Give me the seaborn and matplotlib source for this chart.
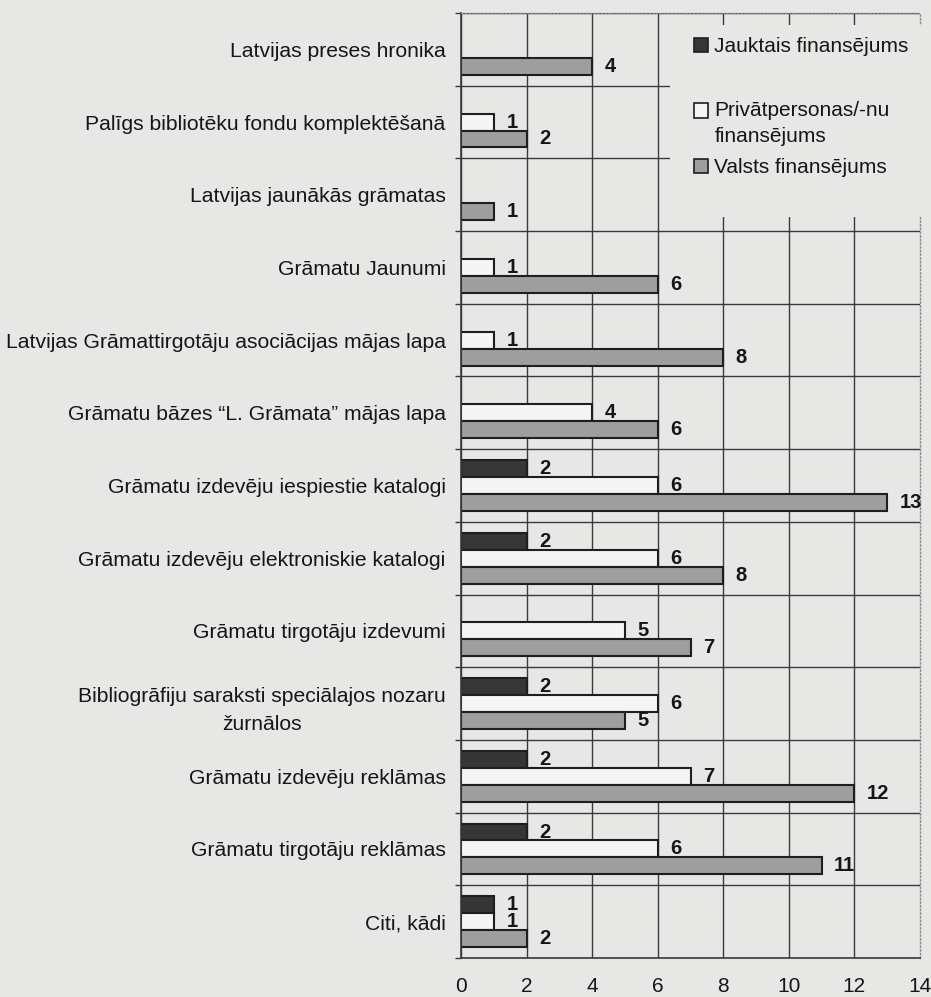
import numpy as np
import pandas as pd
import matplotlib
matplotlib.use("Agg")
import matplotlib.pyplot as plt
import seaborn as sns
from matplotlib.patches import Patch, Rectangle
from matplotlib.legend_handler import HandlerPatch

categories = [
    "Latvijas preses hronika",
    "Palīgs bibliotēku fondu komplektēšanā",
    "Latvijas jaunākās grāmatas",
    "Grāmatu Jaunumi",
    "Latvijas Grāmattirgotāju asociācijas mājas lapa",
    "Grāmatu bāzes “L. Grāmata” mājas lapa",
    "Grāmatu izdevēju iespiestie katalogi",
    "Grāmatu izdevēju elektroniskie katalogi",
    "Grāmatu tirgotāju izdevumi",
    "Bibliogrāfiju saraksti speciālajos nozaru\nžurnālos",
    "Grāmatu izdevēju reklāmas",
    "Grāmatu tirgotāju reklāmas",
    "Citi, kādi",
]
jauktais = [0, 0, 0, 0, 0, 0, 2, 2, 0, 2, 2, 2, 1]
privat = [0, 1, 0, 1, 1, 4, 6, 6, 5, 6, 7, 6, 1]
valsts = [4, 2, 1, 6, 8, 6, 13, 8, 7, 5, 12, 11, 2]
series = ["Jauktais finansējums", "Privātpersonas/-nu\nfinansējums", "Valsts finansējums"]
xticks = [0, 2, 4, 6, 8, 10, 12, 14]

PAPER = "#e7e7e5"
INK = "#1e1e1e"
GRID = "#3a3a3a"
TXT = "#161616"
palette = {series[0]: "#363636", series[1]: "#f5f5f3", series[2]: "#9e9e9e"}

sns.set_theme(style="white")
plt.rcParams["font.family"] = ["Liberation Sans", "DejaVu Sans"]

df = pd.DataFrame({
    "kategorija": categories * 3,
    "finansējums": np.repeat(series, len(categories)),
    "skaits": jauktais + privat + valsts,
})
df_draw = df[df["skaits"] > 0]

W, H = 931, 997
fig = plt.figure(figsize=(W / 100, H / 100), dpi=100, facecolor=PAPER)
ax = fig.add_axes([461 / W, 1 - 958 / H, (920 - 461) / W, (958 - 13) / H])
ax.set_facecolor(PAPER)

sns.barplot(data=df_draw, y="kategorija", x="skaits", hue="finansējums",
            order=categories, hue_order=series, palette=palette, width=0.7,
            orient="h", edgecolor=INK, linewidth=1.5, saturation=1,
            legend=False, ax=ax, dodge=True)

for cont in ax.containers:
    ax.bar_label(cont, fmt="%g", padding=9, fontsize=14.5, fontweight="bold",
                 color=TXT)

ax.set_xlim(0, 14)
ax.set_xticks(xticks)
ax.set_ylim(12.5, -0.5)
ax.set_xlabel("")
ax.set_ylabel("")
ax.set_yticks(np.arange(-0.5, len(categories), 1), minor=True)

ax.set_axisbelow(True)
ax.xaxis.grid(True, color=GRID, linewidth=1.0)
ax.yaxis.grid(True, which="minor", color=GRID, linewidth=1.0)
ax.yaxis.grid(False, which="major")
gls = ax.xaxis.get_gridlines()
gls[-1].set_visible(False)

ax.tick_params(axis="x", direction="out", length=5, width=1, color=GRID,
               labelsize=15, pad=9, labelcolor=TXT)
ax.tick_params(axis="y", which="major", length=0, labelsize=15.2, pad=11,
               labelcolor=TXT)
ax.tick_params(axis="y", which="minor", direction="out", length=4, width=1,
               color=GRID, left=True)

for lbl in ax.get_yticklabels():
    if "\n" in lbl.get_text():
        lbl.set_multialignment("center")
        lbl.set_linespacing(1.65)

for s in ["left", "bottom"]:
    ax.spines[s].set_color(GRID)
    ax.spines[s].set_linewidth(1.2)
for s in ["top", "right"]:
    ax.spines[s].set_color("#8a8a8a")
    ax.spines[s].set_linestyle(":")
    ax.spines[s].set_linewidth(1.0)

fig.add_artist(Rectangle((670 / W, 1 - 217 / H), 1 - 670 / W, (217 - 25) / H,
                         transform=fig.transFigure, facecolor=PAPER,
                         edgecolor="none", zorder=1))


def raised_square(legend, orig_handle, xdescent, ydescent, width, height, fontsize):
    return Rectangle((-xdescent, -ydescent + 0.62 * fontsize), width, height)


handles = [Patch(facecolor=palette[s], edgecolor=INK, linewidth=1.2) for s in series]
LFS = 15
common = dict(frameon=False, fontsize=LFS, handlelength=0.68, handleheight=0.68,
              handletextpad=0.3, borderpad=0, borderaxespad=0, labelcolor=TXT)
fig.legend(handles=handles[:1], labels=series[:1], loc="center left",
           bbox_to_anchor=(694 / W, 1 - 47 / H), **common)
legB = fig.legend(handles=handles[1:], labels=series[1:], loc="upper left",
                  bbox_to_anchor=(694 / W, 1 - 101 / H), labelspacing=0.6,
                  handler_map={handles[1]: HandlerPatch(patch_func=raised_square)},
                  **common)
for t in legB.get_texts():
    t.set_linespacing(1.45)

fig.savefig("out.png", dpi=100, facecolor=PAPER)
